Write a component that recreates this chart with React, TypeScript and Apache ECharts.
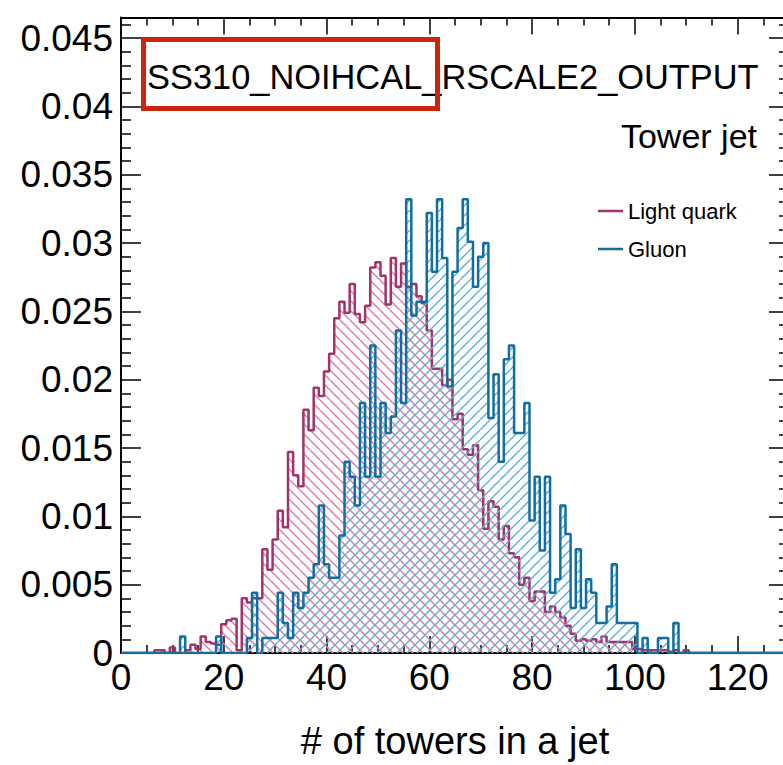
import React, { useEffect, useRef } from 'react';
import * as echarts from 'echarts';

// Bin centres are integers 0,1,2,... (bin n covers [n-0.5, n+0.5])
const LIGHT_QUARK: number[] = [
  0, 0, 0, 0, 0, 0, 0, 0.0002, 0.0002, 0, // 0-9
  0.0004, 0, 0, 0.0002, 0.0006, 0.0003, 0.0012, 0.0008, 0.0007, 0.0006, // 10-19
  0.0021, 0.0024, 0.0025, 0.0002, 0.0040, 0.0037, 0.0040, 0.0040, 0.0076, 0.0061, // 20-29
  0.0083, 0.0104, 0.0092, 0.0147, 0.0130, 0.0122, 0.0178, 0.0163, 0.0194, 0.0188, // 30-39
  0.0206, 0.0219, 0.0245, 0.0257, 0.0249, 0.0270, 0.0248, 0.0242, 0.0254, 0.0282, // 40-49
  0.0286, 0.0276, 0.0255, 0.0289, 0.0268, 0.0285, 0.0268, 0.0270, 0.0261, 0.0256, // 50-59
  0.0236, 0.0208, 0.0208, 0.0196, 0.0200, 0.0171, 0.0175, 0.0149, 0.0145, 0.0152, // 60-69
  0.0119, 0.0091, 0.0111, 0.0107, 0.0083, 0.0093, 0.0073, 0.0070, 0.0050, 0.0055, // 70-79
  0.0038, 0.0045, 0.0045, 0.0030, 0.0034, 0.0030, 0.0026, 0.0020, 0.0014, 0.0009, // 80-89
  0.0010, 0.0009, 0.0010, 0.0008, 0.0012, 0.0008, 0.0008, 0.0008, 0.0008, 0.0008, // 90-99
  0.0003, 0.0003, 0.0002, 0.0002, 0.0002, 0.0002, 0.0002, 0.0001, 0.0002, 0, // 100-109
  0.0002, 0, 0, // 110-112
];

const GLUON: number[] = [
  0, 0, 0, 0, 0, 0, 0, 0, 0, 0, // 0-9
  0, 0, 0.0012, 0, 0, 0, 0, 0, 0, 0.0012, // 10-19
  0, 0, 0, 0, 0, 0.0011, 0.0044, 0, 0.0011, 0.0011, // 20-29
  0.0011, 0.0044, 0.0022, 0.0011, 0.0044, 0.0033, 0.0044, 0.0055, 0.0065, 0.0108, // 30-39
  0.0065, 0.0055, 0.0055, 0.0086, 0.0140, 0.0129, 0.0108, 0.0183, 0.0129, 0.0225, // 40-49
  0.0129, 0.0183, 0.0161, 0.0173, 0.0236, 0.0183, 0.0332, 0.0247, 0.0257, 0.0257, // 50-59
  0.0322, 0.0279, 0.0332, 0.0289, 0.0195, 0.0279, 0.0311, 0.0332, 0.0301, 0.0268, // 60-69
  0.0290, 0.0300, 0.0172, 0.0204, 0.0140, 0.0215, 0.0225, 0.0161, 0.0161, 0.0183, // 70-79
  0.0097, 0.0129, 0.0075, 0.0129, 0.0044, 0.0054, 0.0108, 0.0087, 0.0033, 0.0076, // 80-89
  0.0033, 0.0054, 0.0044, 0.0022, 0.0022, 0.0034, 0.0065, 0.0022, 0.0022, 0.0022, // 90-99
  0.0022, 0, 0.0011, 0, 0, 0.0011, 0.0011, 0, 0.0022, 0, // 100-109
  0, 0, 0, // 110-112
];

const SERIES_NAMES = ['Light quark', 'Gluon'];
const TITLE_TEXT = 'SS310_NOIHCAL_RSCALE2_OUTPUT';
const SUBTITLE_TEXT = 'Tower jet';
const X_TITLE = '# of towers in a jet';

const X_MIN = 0;
const X_MAX = 130;
const X_STEP = 20;
const Y_MIN = 0;
const Y_MAX = 0.0465;
const Y_STEP = 0.005;

const PINK = '#a2336b';
const PINK_HATCH = '#d97aa8';
const BLUE = '#126e9e';
const BLUE_HATCH = '#55afe0';
const FONT = 'Liberation Sans, Arial, Helvetica, sans-serif';

function histPoints(vals: number[]): [number, number][] {
  const nBins = X_MAX + 1;
  const edge = (i: number) => Math.min(X_MAX, Math.max(X_MIN, i - 0.5));
  const pts: [number, number][] = [[edge(0), 0]];
  for (let i = 0; i < nBins; i++) pts.push([edge(i + 1), vals[i] ?? 0]);
  pts.push([edge(nBins), 0]);
  return pts;
}

function hatch(color: string, forward: boolean, size: number, lw: number) {
  const c = document.createElement('canvas');
  c.width = size;
  c.height = size;
  const ctx = c.getContext('2d')!;
  ctx.strokeStyle = color;
  ctx.lineWidth = lw;
  ctx.beginPath();
  for (let k = -1; k <= 1; k++) {
    if (forward) {
      ctx.moveTo(k * size, size);
      ctx.lineTo(k * size + size, 0);
    } else {
      ctx.moveTo(k * size, 0);
      ctx.lineTo(k * size + size, size);
    }
  }
  ctx.stroke();
  return { image: c.toDataURL(), repeat: 'repeat', imageWidth: size, imageHeight: size } as any;
}

export default function App() {
  const ref = useRef<HTMLDivElement>(null);
  useEffect(() => {
    if (!ref.current) return;
    const chart = echarts.init(ref.current, undefined, { renderer: 'svg' });
    const axisCommon = {
      type: 'value' as const,
      axisLine: { show: true, onZero: false, lineStyle: { color: '#000', width: 2 } },
      splitLine: { show: false },
    };
    const option: any = {
      animation: false,
      backgroundColor: '#fff',
      textStyle: { fontFamily: FONT },
      grid: { left: 121, top: 17.5, width: 668, height: 641.2, containLabel: false },
      xAxis: [
        {
          ...axisCommon,
          min: X_MIN,
          max: X_MAX,
          interval: X_STEP,
          position: 'bottom',
          axisTick: { show: true, inside: true, length: 17, lineStyle: { color: '#000', width: 1.5 } },
          minorTick: { show: true, splitNumber: 4, length: 8, lineStyle: { color: '#000', width: 1.5 } },
          axisLabel: { show: true, fontSize: 37, color: '#000', margin: 6, showMaxLabel: false, fontFamily: FONT },
          name: X_TITLE,
          nameLocation: 'middle',
          nameGap: 69,
          nameTextStyle: { fontSize: 38, color: '#000', fontFamily: FONT },
        },
        {
          ...axisCommon,
          min: X_MIN,
          max: X_MAX,
          interval: X_STEP,
          position: 'top',
          axisTick: { show: true, inside: true, length: 17, lineStyle: { color: '#000', width: 1.5 } },
          minorTick: { show: true, splitNumber: 4, length: 8, lineStyle: { color: '#000', width: 1.5 } },
          axisLabel: { show: false },
        },
      ],
      yAxis: [
        {
          ...axisCommon,
          min: Y_MIN,
          max: Y_MAX,
          interval: Y_STEP,
          position: 'left',
          axisTick: { show: true, inside: true, length: 20, lineStyle: { color: '#000', width: 1.5 } },
          minorTick: { show: true, splitNumber: 5, length: 10, lineStyle: { color: '#000', width: 1.5 } },
          axisLabel: {
            show: true,
            fontSize: 37,
            color: '#000',
            margin: 8,
            showMaxLabel: false,
            fontFamily: FONT,
            formatter: (v: number) => (v === 0 ? '0' : String(+v.toFixed(4))),
          },
        },
        {
          ...axisCommon,
          min: Y_MIN,
          max: Y_MAX,
          interval: Y_STEP,
          position: 'right',
          axisTick: { show: true, inside: true, length: 20, lineStyle: { color: '#000', width: 1.5 } },
          minorTick: { show: true, splitNumber: 5, length: 10, lineStyle: { color: '#000', width: 1.5 } },
          axisLabel: { show: false },
        },
      ],
      legend: {
        show: true,
        orient: 'vertical',
        left: 593,
        top: 195,
        icon: 'rect',
        itemWidth: 25,
        itemHeight: 2.5,
        itemGap: 16,
        textStyle: { fontSize: 22, color: '#000', fontFamily: FONT },
        data: [
          { name: SERIES_NAMES[0], itemStyle: { color: PINK } },
          { name: SERIES_NAMES[1], itemStyle: { color: BLUE } },
        ],
      },
      graphic: [
        {
          type: 'text',
          left: 147,
          top: 60,
          style: { text: TITLE_TEXT, fontSize: 34.4, fill: '#000', fontFamily: FONT },
          z: 10,
        },
        {
          type: 'text',
          right: 43,
          top: 119,
          style: { text: SUBTITLE_TEXT, fontSize: 34, fill: '#000', fontFamily: FONT },
          z: 10,
        },
        {
          type: 'rect',
          shape: { x: 143.5, y: 39.5, width: 294, height: 69 },
          style: { fill: 'none', stroke: '#c8260e', lineWidth: 5 },
          z: 11,
        },
      ],
      series: [
        {
          name: SERIES_NAMES[0],
          type: 'line',
          step: 'start',
          xAxisIndex: 0,
          yAxisIndex: 0,
          data: histPoints(LIGHT_QUARK),
          showSymbol: false,
          symbol: 'none',
          color: PINK,
          lineStyle: { color: PINK, width: 2.5 },
          areaStyle: { color: hatch(PINK_HATCH, false, 10, 1.4), opacity: 1 },
          z: 2,
        },
        {
          name: SERIES_NAMES[1],
          type: 'line',
          step: 'start',
          xAxisIndex: 0,
          yAxisIndex: 0,
          data: histPoints(GLUON),
          showSymbol: false,
          symbol: 'none',
          color: BLUE,
          lineStyle: { color: BLUE, width: 2.5 },
          areaStyle: { color: hatch(BLUE_HATCH, true, 10, 1.4), opacity: 1 },
          z: 3,
        },
      ],
    };
    chart.setOption(option);
    return () => chart.dispose();
  }, []);
  return (
    <div style={{ position: 'fixed', left: 0, top: 0, width: 783, height: 765, overflow: 'hidden', background: '#fff' }}>
      <div ref={ref} style={{ width: 800, height: 765 }} />
    </div>
  );
}
